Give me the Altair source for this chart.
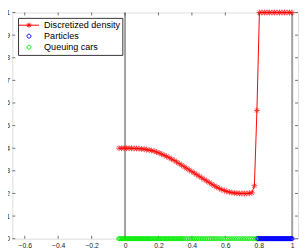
import altair as alt
import pandas as pd

# ---------------- data ----------------
dens_x = [-0.036, -0.021, -0.006, 0.009, 0.024, 0.039, 0.054, 0.069, 0.084, 0.099,
          0.114, 0.129, 0.144, 0.159, 0.174, 0.189, 0.204, 0.219, 0.234, 0.249,
          0.264, 0.279, 0.294, 0.309, 0.324, 0.339, 0.354, 0.369, 0.384, 0.399,
          0.414, 0.429, 0.444, 0.459, 0.474, 0.489, 0.504, 0.519, 0.534, 0.549,
          0.564, 0.579, 0.594, 0.609, 0.624, 0.639, 0.654, 0.669, 0.684, 0.699,
          0.714, 0.729, 0.744, 0.759, 0.774, 0.789, 0.804, 0.819, 0.834, 0.849,
          0.864, 0.879, 0.894, 0.909, 0.924, 0.939, 0.954, 0.969, 0.984, 0.999]
dens_y = [0.400, 0.400, 0.400, 0.400, 0.400, 0.400, 0.399, 0.399, 0.398, 0.397,
          0.396, 0.394, 0.392, 0.390, 0.387, 0.383, 0.379, 0.374, 0.369, 0.364,
          0.358, 0.352, 0.346, 0.339, 0.332, 0.325, 0.318, 0.311, 0.304, 0.297,
          0.290, 0.283, 0.276, 0.269, 0.262, 0.255, 0.248, 0.241, 0.234, 0.228,
          0.222, 0.217, 0.213, 0.209, 0.206, 0.204, 0.202, 0.201, 0.200, 0.200,
          0.200, 0.200, 0.201, 0.203, 0.234, 0.567, 1.0, 1.0, 1.0, 1.0,
          1.0, 1.0, 1.0, 1.0, 1.0, 1.0, 1.0, 1.0, 1.0, 1.0]

queue_x = [-0.038, -0.031, -0.024, -0.017, -0.010, -0.003, 0.004, 0.011, 0.018, 0.025,
           0.032, 0.039, 0.046, 0.053, 0.060, 0.067, 0.074, 0.081, 0.088, 0.095,
           0.102, 0.109, 0.116, 0.123, 0.130, 0.137, 0.144, 0.151, 0.159, 0.167,
           0.175, 0.183, 0.191, 0.199, 0.207, 0.215, 0.223, 0.231, 0.239, 0.247,
           0.255, 0.263, 0.271, 0.279, 0.287, 0.295, 0.303, 0.311, 0.319, 0.327,
           0.335, 0.343, 0.351, 0.362, 0.373, 0.384, 0.395, 0.406, 0.417, 0.428,
           0.439, 0.450, 0.461, 0.472, 0.483, 0.494, 0.505, 0.516, 0.527, 0.538,
           0.549, 0.562, 0.575, 0.588, 0.601, 0.614, 0.627, 0.640, 0.653, 0.666,
           0.679, 0.692, 0.705, 0.718, 0.731, 0.744, 0.757, 0.770, 0.783]
particle_x = [0.790, 0.795, 0.800, 0.805, 0.810, 0.815, 0.820, 0.825, 0.830, 0.835,
              0.840, 0.845, 0.850, 0.855, 0.860, 0.865, 0.870, 0.875, 0.880, 0.885,
              0.890, 0.895, 0.900, 0.905, 0.910, 0.915, 0.920, 0.925, 0.930, 0.935,
              0.940, 0.945, 0.950, 0.955, 0.960, 0.965, 0.970, 0.975, 0.980, 0.985,
              0.990, 0.995, 1.000]

road_ends = [0, 1]
x_ticks = [-0.6, -0.4, -0.2, 0, 0.2, 0.4, 0.6, 0.8, 1]
y_ticks = [0, 0.1, 0.2, 0.3, 0.4, 0.5, 0.6, 0.7, 0.8, 0.9, 1]
series_names = ["Discretized density", "Particles", "Queuing cars"]
series_colors = ["#ff0000", "#0000ff", "#00ee00"]
title_text = "time=1"

# ---------------- tables ----------------
dens_df = pd.DataFrame({"x": dens_x, "y": dens_y})
pts_df = pd.concat([
    pd.DataFrame({"x": particle_x, "y": [0.0] * len(particle_x), "series": "Particles"}),
    pd.DataFrame({"x": queue_x, "y": [0.0] * len(queue_x), "series": "Queuing cars"}),
])
road_df = pd.DataFrame({"x": road_ends})
xt_df = pd.DataFrame({"v": x_ticks})
yt_df = pd.DataFrame({"v": y_ticks})

W, H = 293, 232
FONT = "Liberation Sans"

xsc = alt.Scale(domain=[-0.674, 1.035], nice=False, zero=False)
ysc = alt.Scale(domain=[0, 1], nice=False, zero=False)

STAR = "M-1,0L1,0M0,-1L0,1M-0.7,-0.7L0.7,0.7M-0.7,0.7L0.7,-0.7"
LEG_DENS = ("M-2.06,0L2.06,0M-0.5,0L0.5,0M0,-0.5L0,0.5"
            "M-0.35,-0.35L0.35,0.35M-0.35,0.35L0.35,-0.35")
CIRC = "M0.4,0A0.4,0.4 0 1,1 -0.4,0A0.4,0.4 0 1,1 0.4,0Z"

xaxis = alt.Axis(values=x_ticks, format="~g", grid=False, domain=False, ticks=False,
                 labelFontSize=7, labelFont=FONT, labelColor="#222", labelPadding=3,
                 labelOverlap=False, labelFlush=False, title=None)
yaxis = alt.Axis(values=y_ticks, format="~g", grid=False, domain=False, ticks=False,
                 labelFontSize=7, labelFont=FONT, labelColor="#222", labelPadding=3,
                 labelOverlap=False, labelFlush=False, title=None)


def X(field):
    return alt.X(field, scale=xsc, axis=xaxis)


def Y(field):
    return alt.Y(field, scale=ysc, axis=yaxis)


tick_bot = alt.Chart(xt_df).mark_rule(color="#333", strokeWidth=0.7).encode(
    x=X("v:Q"), y=alt.value(H), y2=alt.value(H - 3))
tick_top = alt.Chart(xt_df).mark_rule(color="#333", strokeWidth=0.7).encode(
    x=X("v:Q"), y=alt.value(0), y2=alt.value(3))
tick_left = alt.Chart(yt_df).mark_rule(color="#333", strokeWidth=0.7).encode(
    y=Y("v:Q"), x=alt.value(0), x2=alt.value(3))
tick_right = alt.Chart(yt_df).mark_rule(color="#333", strokeWidth=0.7).encode(
    y=Y("v:Q"), x=alt.value(W), x2=alt.value(W - 3))

road = alt.Chart(road_df).mark_rule(color="#a0a0a0", strokeWidth=2).encode(x=X("x:Q"))

dens_line = alt.Chart(dens_df).mark_line(color="#ff0000", strokeWidth=1).encode(
    x=X("x:Q"), y=Y("y:Q"))
dens_pts = alt.Chart(dens_df).mark_point(
    shape=STAR, size=36, color="#ff0000", filled=False, strokeWidth=1
).encode(x=X("x:Q"), y=Y("y:Q"))

legend = alt.Legend(
    title=None, orient="none", legendX=5.8, legendY=5.5,
    strokeColor="#333", fillColor="white", padding=2, rowPadding=0.3,
    labelFont=FONT, labelFontSize=9.3, labelColor="#000", labelOffset=10,
    symbolSize=100, symbolStrokeWidth=1, symbolOffset=3.7, cornerRadius=0,
)
cars = alt.Chart(pts_df).mark_point(filled=False, size=100, strokeWidth=1, opacity=1).encode(
    x=X("x:Q"),
    y=Y("y:Q"),
    color=alt.Color("series:N", scale=alt.Scale(domain=series_names, range=series_colors),
                    legend=legend),
    shape=alt.Shape("series:N", scale=alt.Scale(domain=series_names,
                                                range=[LEG_DENS, CIRC, CIRC]),
                    legend=legend),
)

chart = alt.layer(
    road, tick_bot, tick_left, tick_top, tick_right, dens_line, dens_pts, cars
).properties(
    width=W, height=H,
    title=alt.Title(title_text, fontSize=7.5, fontWeight="bold", font=FONT,
                    color="#000", offset=3),
    autosize=alt.AutoSizeParams(type="none"),
    padding={"left": 4.5, "top": 1.5, "right": 1, "bottom": 10},
).configure_view(
    stroke="#333", strokeWidth=0.8
).configure_axis(
    labelOverlap=False
).configure(background="white")

chart.save("out.html", embed_options={"renderer": "svg", "actions": False})
